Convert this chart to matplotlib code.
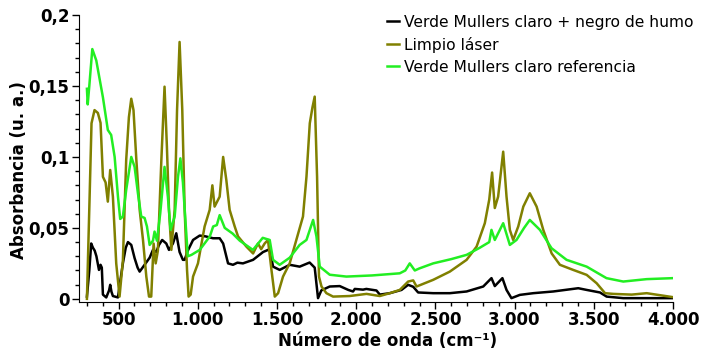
import numpy as np
import matplotlib
matplotlib.use("Agg")
import matplotlib.pyplot as plt
from matplotlib.ticker import FixedLocator, MultipleLocator

# --- data (wavenumber cm-1, absorbance) ---
wn_black = [300, 315, 327, 338, 349, 360, 376, 386, 394, 401, 422, 440, 447, 455, 464, 496,
            510, 527, 545, 559, 580, 601, 620, 633, 664, 696, 717, 738, 755, 775, 801, 818,
            843, 864, 885, 906, 917, 937, 970, 1012, 1050, 1096, 1138, 1160, 1191, 1222, 1250,
            1285, 1349, 1412, 1454, 1475, 1517, 1580, 1643, 1706, 1738, 1759, 1780, 1833, 1896,
            1950, 1980, 1991, 2043, 2064, 2128, 2149, 2212, 2286, 2328, 2360, 2391, 2486, 2591,
            2697, 2802, 2854, 2875, 2923, 2949, 2980, 3033, 3118, 3244, 3402, 3455, 3539, 3581,
            3686, 4000]
ab_black = [0.0016, 0.02, 0.039, 0.036, 0.034, 0.03, 0.0204, 0.024, 0.022, 0.003, 0.001, 0.006,
            0.0099, 0.005, 0.002, 0.001, 0.012, 0.025, 0.036, 0.040, 0.038, 0.0287, 0.022, 0.0192,
            0.024, 0.029, 0.0345, 0.033, 0.038, 0.0415, 0.039, 0.0345, 0.039, 0.0462, 0.033,
            0.0275, 0.0275, 0.034, 0.0415, 0.0446, 0.044, 0.0427, 0.0427, 0.039, 0.025, 0.024,
            0.0255, 0.025, 0.0275, 0.033, 0.035, 0.0227, 0.0204, 0.024, 0.0227, 0.0256, 0.022,
            0.0005, 0.006, 0.0087, 0.009, 0.0063, 0.0052, 0.007, 0.0065, 0.007, 0.0059, 0.003,
            0.004, 0.0063, 0.0099, 0.0085, 0.0045, 0.004, 0.004, 0.0052, 0.0087, 0.0146, 0.009,
            0.0146, 0.0063, 0.0005, 0.0028, 0.004, 0.0052, 0.0075, 0.0063, 0.0045, 0.0016,
            0.0005, 0.0005]

wn_laser = [300, 317, 329, 348, 369, 386, 401, 418, 432, 447, 464, 485, 506, 527, 548, 565, 580,
            594, 612, 633, 654, 675, 692, 706, 721, 734, 748, 770, 790, 805, 818, 833, 854, 869,
            885, 902, 917, 932, 942, 955, 970, 1001, 1043, 1075, 1092, 1106, 1138, 1160, 1180,
            1201, 1233, 1254, 1307, 1349, 1380, 1400, 1422, 1443, 1465, 1486, 1507, 1538, 1580,
            1622, 1664, 1686, 1707, 1724, 1738, 1753, 1765, 1781, 1812, 1854, 1959, 2065, 2149,
            2212, 2275, 2328, 2360, 2381, 2486, 2591, 2697, 2760, 2812, 2840, 2858, 2875, 2896,
            2928, 2949, 2970, 2991, 3023, 3055, 3096, 3139, 3181, 3234, 3286, 3370, 3455, 3518,
            3571, 3623, 3739, 3834, 4000]
ab_laser = [0.0, 0.072, 0.1237, 0.133, 0.131, 0.124, 0.086, 0.082, 0.0685, 0.0908, 0.072, 0.025,
            0.0016, 0.027, 0.098, 0.128, 0.141, 0.133, 0.098, 0.0627, 0.0415, 0.0157, 0.0016,
            0.0016, 0.039, 0.025, 0.034, 0.098, 0.1495, 0.107, 0.063, 0.0345, 0.063, 0.133, 0.181,
            0.133, 0.0627, 0.0204, 0.0016, 0.003, 0.0157, 0.025, 0.051, 0.0627, 0.080, 0.065,
            0.072, 0.100, 0.0838, 0.0627, 0.051, 0.044, 0.0368, 0.032, 0.039, 0.035, 0.039,
            0.0415, 0.0204, 0.0016, 0.004, 0.0157, 0.025, 0.0415, 0.058, 0.086, 0.1237, 0.135,
            0.1425, 0.086, 0.0157, 0.0087, 0.004, 0.0016, 0.002, 0.0035, 0.002, 0.004, 0.0063,
            0.0122, 0.013, 0.0087, 0.0134, 0.0192, 0.0275, 0.0368, 0.0533, 0.070, 0.089, 0.064,
            0.072, 0.1037, 0.072, 0.0486, 0.0415, 0.051, 0.065, 0.0744, 0.065, 0.0486, 0.032,
            0.024, 0.0204, 0.0169, 0.011, 0.004, 0.0035, 0.003, 0.004, 0.0012]

wn_ref = [300, 305, 315, 334, 359, 380, 401, 432, 453, 475, 496, 510, 527, 548, 580, 601, 622,
          643, 664, 679, 696, 717, 727, 742, 763, 790, 811, 828, 854, 875, 890, 906, 923, 937,
          960, 1012, 1076, 1097, 1120, 1138, 1170, 1220, 1265, 1348, 1410, 1454, 1475, 1517,
          1580, 1643, 1686, 1728, 1749, 1770, 1833, 1938, 2100, 2275, 2310, 2338, 2370, 2400,
          2486, 2600, 2697, 2780, 2840, 2854, 2875, 2928, 2970, 3012, 3060, 3096, 3160, 3233,
          3328, 3455, 3580, 3686, 3834, 4000]
ab_ref = [0.148, 0.137, 0.15, 0.176, 0.168, 0.155, 0.142, 0.119, 0.1155, 0.100, 0.072, 0.0563,
          0.058, 0.0768, 0.100, 0.093, 0.0744, 0.058, 0.057, 0.051, 0.038, 0.041, 0.0474, 0.041,
          0.0604, 0.093, 0.072, 0.0486, 0.058, 0.086, 0.099, 0.082, 0.0533, 0.030, 0.031,
          0.0345, 0.044, 0.051, 0.052, 0.059, 0.050, 0.046, 0.041, 0.0345, 0.043, 0.0415,
          0.0275, 0.024, 0.029, 0.038, 0.0415, 0.0556, 0.044, 0.0227, 0.017, 0.0157, 0.0165,
          0.018, 0.02, 0.025, 0.020, 0.0215, 0.025, 0.028, 0.031, 0.036, 0.040, 0.0486, 0.0415,
          0.0533, 0.038, 0.0415, 0.05, 0.0556, 0.0486, 0.0357, 0.0275, 0.0227, 0.0146, 0.0122,
          0.0139, 0.0146]

labels = ["Verde Mullers claro + negro de humo", "Limpio láser", "Verde Mullers claro referencia"]
colors = ["#000000", "#808000", "#22ee22"]

xticks = [500, 1000, 1500, 2000, 2500, 3000, 3500, 4000]
xticklabels = ["500", "1.000", "1.500", "2.000", "2.500", "3.000", "3.500", "4.000"]
yticks = [0, 0.05, 0.1, 0.15, 0.2]
yticklabels = ["0", "0,05", "0,1", "0,15", "0,2"]

fig = plt.figure(figsize=(7.02, 3.53), dpi=100)
ax = fig.add_axes([79/702, 1 - 301.7/353, (673-79)/702, (301.7-15)/353])

for wn, ab, lab, c in zip([wn_black, wn_laser, wn_ref], [ab_black, ab_laser, ab_ref], labels, colors):
    ax.plot(wn, ab, color=c, lw=1.8, label=lab)

ax.set_xlim(250, 4000)
ax.set_ylim(-0.002, 0.2)
ax.spines["top"].set_visible(False)
ax.spines["right"].set_visible(False)
ax.xaxis.set_major_locator(FixedLocator(xticks))
ax.set_xticklabels(xticklabels, fontsize=12, fontweight="bold")
ax.xaxis.set_minor_locator(MultipleLocator(100))
ax.yaxis.set_major_locator(FixedLocator(yticks))
ax.set_yticklabels(yticklabels, fontsize=12, fontweight="bold")
ax.yaxis.set_minor_locator(MultipleLocator(0.01))
ax.tick_params(which="major", length=5, width=1, pad=2)
ax.tick_params(which="minor", length=3, width=1)

ax.set_xlabel("Número de onda (cm⁻¹)", fontsize=12, fontweight="bold")
ax.xaxis.set_label_coords(0.52, -0.105)
ax.set_ylabel("Absorbancia (u. a.)", fontsize=12, fontweight="bold")
ax.yaxis.set_label_coords(-0.086, 0.46)

leg = ax.legend(loc="upper left", bbox_to_anchor=(387/702, 1 - 14.5/353),
                bbox_transform=fig.transFigure, frameon=False, fontsize=11.2,
                handlelength=0.8, handletextpad=0.3, labelspacing=0.46,
                borderpad=0, borderaxespad=0)

fig.savefig("out.png", dpi=100, facecolor="white")
